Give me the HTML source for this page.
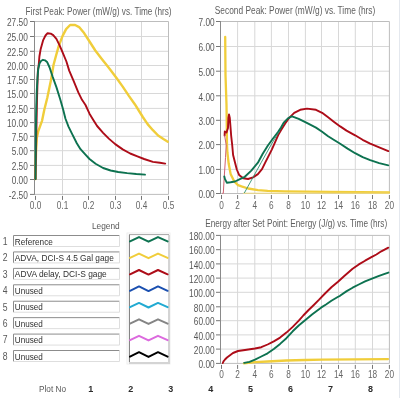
<!DOCTYPE html>
<html><head><meta charset="utf-8"><style>
html,body{margin:0;padding:0;background:#fff;width:400px;height:398px;overflow:hidden}
svg{display:block;will-change:transform;font-family:"Liberation Sans",sans-serif}
</style></head><body>
<svg width="400" height="398" viewBox="0 0 400 398">
<rect width="400" height="398" fill="#fff"/>
<line x1="62.50" y1="21.50" x2="62.50" y2="194.40" stroke="#d8d8d8" stroke-width="1"/>
<line x1="88.50" y1="21.50" x2="88.50" y2="194.40" stroke="#d8d8d8" stroke-width="1"/>
<line x1="115.50" y1="21.50" x2="115.50" y2="194.40" stroke="#d8d8d8" stroke-width="1"/>
<line x1="141.50" y1="21.50" x2="141.50" y2="194.40" stroke="#d8d8d8" stroke-width="1"/>
<line x1="34.50" y1="36.50" x2="168.50" y2="36.50" stroke="#d8d8d8" stroke-width="1"/>
<line x1="34.50" y1="51.30" x2="168.50" y2="51.30" stroke="#d8d8d8" stroke-width="1"/>
<line x1="34.50" y1="65.50" x2="168.50" y2="65.50" stroke="#d8d8d8" stroke-width="1"/>
<line x1="34.50" y1="79.50" x2="168.50" y2="79.50" stroke="#d8d8d8" stroke-width="1"/>
<line x1="34.50" y1="93.50" x2="168.50" y2="93.50" stroke="#d8d8d8" stroke-width="1"/>
<line x1="34.50" y1="108.40" x2="168.50" y2="108.40" stroke="#d8d8d8" stroke-width="1"/>
<line x1="34.50" y1="122.60" x2="168.50" y2="122.60" stroke="#d8d8d8" stroke-width="1"/>
<line x1="34.50" y1="136.30" x2="168.50" y2="136.30" stroke="#d8d8d8" stroke-width="1"/>
<line x1="34.50" y1="150.70" x2="168.50" y2="150.70" stroke="#d8d8d8" stroke-width="1"/>
<line x1="34.50" y1="165.40" x2="168.50" y2="165.40" stroke="#d8d8d8" stroke-width="1"/>
<line x1="34.50" y1="179.50" x2="168.50" y2="179.50" stroke="#d8d8d8" stroke-width="1"/>
<line x1="34.50" y1="21.50" x2="168.50" y2="21.50" stroke="#bdbdbd" stroke-width="1"/>
<line x1="168.50" y1="21.50" x2="168.50" y2="194.40" stroke="#bdbdbd" stroke-width="1"/>
<line x1="34.50" y1="194.40" x2="168.50" y2="194.40" stroke="#bdbdbd" stroke-width="1"/>
<line x1="34.50" y1="21.00" x2="34.50" y2="194.90" stroke="#8a8a8a" stroke-width="1"/>
<line x1="30.00" y1="21.50" x2="34.00" y2="21.50" stroke="#777777" stroke-width="1"/>
<text x="27.80" y="26.20" text-anchor="end" font-size="10.4" fill="#585858" textLength="20.8" lengthAdjust="spacingAndGlyphs">27.50</text>
<line x1="30.00" y1="36.50" x2="34.00" y2="36.50" stroke="#777777" stroke-width="1"/>
<text x="27.80" y="41.20" text-anchor="end" font-size="10.4" fill="#585858" textLength="20.8" lengthAdjust="spacingAndGlyphs">25.00</text>
<line x1="30.00" y1="51.30" x2="34.00" y2="51.30" stroke="#777777" stroke-width="1"/>
<text x="27.80" y="56.00" text-anchor="end" font-size="10.4" fill="#585858" textLength="20.8" lengthAdjust="spacingAndGlyphs">22.50</text>
<line x1="30.00" y1="65.50" x2="34.00" y2="65.50" stroke="#777777" stroke-width="1"/>
<text x="27.80" y="70.20" text-anchor="end" font-size="10.4" fill="#585858" textLength="20.8" lengthAdjust="spacingAndGlyphs">20.00</text>
<line x1="30.00" y1="79.50" x2="34.00" y2="79.50" stroke="#777777" stroke-width="1"/>
<text x="27.80" y="84.20" text-anchor="end" font-size="10.4" fill="#585858" textLength="20.8" lengthAdjust="spacingAndGlyphs">17.50</text>
<line x1="30.00" y1="93.50" x2="34.00" y2="93.50" stroke="#777777" stroke-width="1"/>
<text x="27.80" y="98.20" text-anchor="end" font-size="10.4" fill="#585858" textLength="20.8" lengthAdjust="spacingAndGlyphs">15.00</text>
<line x1="30.00" y1="108.40" x2="34.00" y2="108.40" stroke="#777777" stroke-width="1"/>
<text x="27.80" y="113.10" text-anchor="end" font-size="10.4" fill="#585858" textLength="20.8" lengthAdjust="spacingAndGlyphs">12.50</text>
<line x1="30.00" y1="122.60" x2="34.00" y2="122.60" stroke="#777777" stroke-width="1"/>
<text x="27.80" y="127.30" text-anchor="end" font-size="10.4" fill="#585858" textLength="20.8" lengthAdjust="spacingAndGlyphs">10.00</text>
<line x1="30.00" y1="136.30" x2="34.00" y2="136.30" stroke="#777777" stroke-width="1"/>
<text x="27.80" y="141.00" text-anchor="end" font-size="10.4" fill="#585858" textLength="16.1" lengthAdjust="spacingAndGlyphs">7.50</text>
<line x1="30.00" y1="150.70" x2="34.00" y2="150.70" stroke="#777777" stroke-width="1"/>
<text x="27.80" y="155.40" text-anchor="end" font-size="10.4" fill="#585858" textLength="16.1" lengthAdjust="spacingAndGlyphs">5.00</text>
<line x1="30.00" y1="165.40" x2="34.00" y2="165.40" stroke="#777777" stroke-width="1"/>
<text x="27.80" y="170.10" text-anchor="end" font-size="10.4" fill="#585858" textLength="16.1" lengthAdjust="spacingAndGlyphs">2.50</text>
<line x1="30.00" y1="179.50" x2="34.00" y2="179.50" stroke="#777777" stroke-width="1"/>
<text x="27.80" y="184.20" text-anchor="end" font-size="10.4" fill="#585858" textLength="16.1" lengthAdjust="spacingAndGlyphs">0.00</text>
<line x1="30.00" y1="194.40" x2="34.00" y2="194.40" stroke="#777777" stroke-width="1"/>
<text x="27.80" y="199.10" text-anchor="end" font-size="10.4" fill="#585858" textLength="19.0" lengthAdjust="spacingAndGlyphs">-2.50</text>
<line x1="35.50" y1="195.90" x2="35.50" y2="199.90" stroke="#777777" stroke-width="1"/>
<text x="35.50" y="208.60" text-anchor="middle" font-size="10.2" fill="#666666" textLength="11.5" lengthAdjust="spacingAndGlyphs">0.0</text>
<line x1="62.50" y1="195.90" x2="62.50" y2="199.90" stroke="#777777" stroke-width="1"/>
<text x="62.50" y="208.60" text-anchor="middle" font-size="10.2" fill="#666666" textLength="11.5" lengthAdjust="spacingAndGlyphs">0.1</text>
<line x1="88.50" y1="195.90" x2="88.50" y2="199.90" stroke="#777777" stroke-width="1"/>
<text x="88.50" y="208.60" text-anchor="middle" font-size="10.2" fill="#666666" textLength="11.5" lengthAdjust="spacingAndGlyphs">0.2</text>
<line x1="115.50" y1="195.90" x2="115.50" y2="199.90" stroke="#777777" stroke-width="1"/>
<text x="115.50" y="208.60" text-anchor="middle" font-size="10.2" fill="#666666" textLength="11.5" lengthAdjust="spacingAndGlyphs">0.3</text>
<line x1="141.50" y1="195.90" x2="141.50" y2="199.90" stroke="#777777" stroke-width="1"/>
<text x="141.50" y="208.60" text-anchor="middle" font-size="10.2" fill="#666666" textLength="11.5" lengthAdjust="spacingAndGlyphs">0.4</text>
<line x1="168.50" y1="195.90" x2="168.50" y2="199.90" stroke="#777777" stroke-width="1"/>
<text x="168.50" y="208.60" text-anchor="middle" font-size="10.2" fill="#666666" textLength="11.5" lengthAdjust="spacingAndGlyphs">0.5</text>
<line x1="237.60" y1="21.50" x2="237.60" y2="193.50" stroke="#d8d8d8" stroke-width="1"/>
<line x1="254.80" y1="21.50" x2="254.80" y2="193.50" stroke="#d8d8d8" stroke-width="1"/>
<line x1="271.40" y1="21.50" x2="271.40" y2="193.50" stroke="#d8d8d8" stroke-width="1"/>
<line x1="288.50" y1="21.50" x2="288.50" y2="193.50" stroke="#d8d8d8" stroke-width="1"/>
<line x1="305.40" y1="21.50" x2="305.40" y2="193.50" stroke="#d8d8d8" stroke-width="1"/>
<line x1="321.50" y1="21.50" x2="321.50" y2="193.50" stroke="#d8d8d8" stroke-width="1"/>
<line x1="338.50" y1="21.50" x2="338.50" y2="193.50" stroke="#d8d8d8" stroke-width="1"/>
<line x1="355.30" y1="21.50" x2="355.30" y2="193.50" stroke="#d8d8d8" stroke-width="1"/>
<line x1="372.50" y1="21.50" x2="372.50" y2="193.50" stroke="#d8d8d8" stroke-width="1"/>
<line x1="220.50" y1="46.50" x2="389.40" y2="46.50" stroke="#d8d8d8" stroke-width="1"/>
<line x1="220.50" y1="71.20" x2="389.40" y2="71.20" stroke="#d8d8d8" stroke-width="1"/>
<line x1="220.50" y1="95.80" x2="389.40" y2="95.80" stroke="#d8d8d8" stroke-width="1"/>
<line x1="220.50" y1="120.30" x2="389.40" y2="120.30" stroke="#d8d8d8" stroke-width="1"/>
<line x1="220.50" y1="144.60" x2="389.40" y2="144.60" stroke="#d8d8d8" stroke-width="1"/>
<line x1="220.50" y1="169.40" x2="389.40" y2="169.40" stroke="#d8d8d8" stroke-width="1"/>
<line x1="220.50" y1="21.50" x2="389.40" y2="21.50" stroke="#bdbdbd" stroke-width="1"/>
<line x1="389.40" y1="21.50" x2="389.40" y2="193.50" stroke="#bdbdbd" stroke-width="1"/>
<line x1="220.50" y1="193.50" x2="389.40" y2="193.50" stroke="#bdbdbd" stroke-width="1"/>
<line x1="220.50" y1="21.00" x2="220.50" y2="194.00" stroke="#8a8a8a" stroke-width="1"/>
<line x1="216.00" y1="21.50" x2="220.00" y2="21.50" stroke="#777777" stroke-width="1"/>
<text x="214.60" y="26.20" text-anchor="end" font-size="10.4" fill="#585858" textLength="16.1" lengthAdjust="spacingAndGlyphs">7.00</text>
<line x1="216.00" y1="46.50" x2="220.00" y2="46.50" stroke="#777777" stroke-width="1"/>
<text x="214.60" y="51.20" text-anchor="end" font-size="10.4" fill="#585858" textLength="16.1" lengthAdjust="spacingAndGlyphs">6.00</text>
<line x1="216.00" y1="71.20" x2="220.00" y2="71.20" stroke="#777777" stroke-width="1"/>
<text x="214.60" y="75.90" text-anchor="end" font-size="10.4" fill="#585858" textLength="16.1" lengthAdjust="spacingAndGlyphs">5.00</text>
<line x1="216.00" y1="95.80" x2="220.00" y2="95.80" stroke="#777777" stroke-width="1"/>
<text x="214.60" y="100.50" text-anchor="end" font-size="10.4" fill="#585858" textLength="16.1" lengthAdjust="spacingAndGlyphs">4.00</text>
<line x1="216.00" y1="120.30" x2="220.00" y2="120.30" stroke="#777777" stroke-width="1"/>
<text x="214.60" y="125.00" text-anchor="end" font-size="10.4" fill="#585858" textLength="16.1" lengthAdjust="spacingAndGlyphs">3.00</text>
<line x1="216.00" y1="144.60" x2="220.00" y2="144.60" stroke="#777777" stroke-width="1"/>
<text x="214.60" y="149.30" text-anchor="end" font-size="10.4" fill="#585858" textLength="16.1" lengthAdjust="spacingAndGlyphs">2.00</text>
<line x1="216.00" y1="169.40" x2="220.00" y2="169.40" stroke="#777777" stroke-width="1"/>
<text x="214.60" y="174.10" text-anchor="end" font-size="10.4" fill="#585858" textLength="16.1" lengthAdjust="spacingAndGlyphs">1.00</text>
<line x1="216.00" y1="193.50" x2="220.00" y2="193.50" stroke="#777777" stroke-width="1"/>
<text x="214.60" y="198.20" text-anchor="end" font-size="10.4" fill="#585858" textLength="16.1" lengthAdjust="spacingAndGlyphs">0.00</text>
<line x1="221.50" y1="195.00" x2="221.50" y2="199.00" stroke="#777777" stroke-width="1"/>
<text x="221.50" y="208.60" text-anchor="middle" font-size="10.2" fill="#666666" textLength="4.6" lengthAdjust="spacingAndGlyphs">0</text>
<line x1="237.60" y1="195.00" x2="237.60" y2="199.00" stroke="#777777" stroke-width="1"/>
<text x="237.60" y="208.60" text-anchor="middle" font-size="10.2" fill="#666666" textLength="4.6" lengthAdjust="spacingAndGlyphs">2</text>
<line x1="254.80" y1="195.00" x2="254.80" y2="199.00" stroke="#777777" stroke-width="1"/>
<text x="254.80" y="208.60" text-anchor="middle" font-size="10.2" fill="#666666" textLength="4.6" lengthAdjust="spacingAndGlyphs">4</text>
<line x1="271.40" y1="195.00" x2="271.40" y2="199.00" stroke="#777777" stroke-width="1"/>
<text x="271.40" y="208.60" text-anchor="middle" font-size="10.2" fill="#666666" textLength="4.6" lengthAdjust="spacingAndGlyphs">6</text>
<line x1="288.50" y1="195.00" x2="288.50" y2="199.00" stroke="#777777" stroke-width="1"/>
<text x="288.50" y="208.60" text-anchor="middle" font-size="10.2" fill="#666666" textLength="4.6" lengthAdjust="spacingAndGlyphs">8</text>
<line x1="305.40" y1="195.00" x2="305.40" y2="199.00" stroke="#777777" stroke-width="1"/>
<text x="305.40" y="208.60" text-anchor="middle" font-size="10.2" fill="#666666" textLength="9.2" lengthAdjust="spacingAndGlyphs">10</text>
<line x1="321.50" y1="195.00" x2="321.50" y2="199.00" stroke="#777777" stroke-width="1"/>
<text x="321.50" y="208.60" text-anchor="middle" font-size="10.2" fill="#666666" textLength="9.2" lengthAdjust="spacingAndGlyphs">12</text>
<line x1="338.50" y1="195.00" x2="338.50" y2="199.00" stroke="#777777" stroke-width="1"/>
<text x="338.50" y="208.60" text-anchor="middle" font-size="10.2" fill="#666666" textLength="9.2" lengthAdjust="spacingAndGlyphs">14</text>
<line x1="355.30" y1="195.00" x2="355.30" y2="199.00" stroke="#777777" stroke-width="1"/>
<text x="355.30" y="208.60" text-anchor="middle" font-size="10.2" fill="#666666" textLength="9.2" lengthAdjust="spacingAndGlyphs">16</text>
<line x1="372.50" y1="195.00" x2="372.50" y2="199.00" stroke="#777777" stroke-width="1"/>
<text x="372.50" y="208.60" text-anchor="middle" font-size="10.2" fill="#666666" textLength="9.2" lengthAdjust="spacingAndGlyphs">18</text>
<line x1="389.40" y1="195.00" x2="389.40" y2="199.00" stroke="#777777" stroke-width="1"/>
<text x="389.40" y="208.60" text-anchor="middle" font-size="10.2" fill="#666666" textLength="9.2" lengthAdjust="spacingAndGlyphs">20</text>
<line x1="237.60" y1="235.40" x2="237.60" y2="363.40" stroke="#d8d8d8" stroke-width="1"/>
<line x1="254.80" y1="235.40" x2="254.80" y2="363.40" stroke="#d8d8d8" stroke-width="1"/>
<line x1="271.40" y1="235.40" x2="271.40" y2="363.40" stroke="#d8d8d8" stroke-width="1"/>
<line x1="288.50" y1="235.40" x2="288.50" y2="363.40" stroke="#d8d8d8" stroke-width="1"/>
<line x1="305.40" y1="235.40" x2="305.40" y2="363.40" stroke="#d8d8d8" stroke-width="1"/>
<line x1="321.50" y1="235.40" x2="321.50" y2="363.40" stroke="#d8d8d8" stroke-width="1"/>
<line x1="338.50" y1="235.40" x2="338.50" y2="363.40" stroke="#d8d8d8" stroke-width="1"/>
<line x1="355.30" y1="235.40" x2="355.30" y2="363.40" stroke="#d8d8d8" stroke-width="1"/>
<line x1="372.50" y1="235.40" x2="372.50" y2="363.40" stroke="#d8d8d8" stroke-width="1"/>
<line x1="220.50" y1="249.70" x2="389.40" y2="249.70" stroke="#d8d8d8" stroke-width="1"/>
<line x1="220.50" y1="263.90" x2="389.40" y2="263.90" stroke="#d8d8d8" stroke-width="1"/>
<line x1="220.50" y1="278.10" x2="389.40" y2="278.10" stroke="#d8d8d8" stroke-width="1"/>
<line x1="220.50" y1="292.30" x2="389.40" y2="292.30" stroke="#d8d8d8" stroke-width="1"/>
<line x1="220.50" y1="306.80" x2="389.40" y2="306.80" stroke="#d8d8d8" stroke-width="1"/>
<line x1="220.50" y1="320.70" x2="389.40" y2="320.70" stroke="#d8d8d8" stroke-width="1"/>
<line x1="220.50" y1="334.90" x2="389.40" y2="334.90" stroke="#d8d8d8" stroke-width="1"/>
<line x1="220.50" y1="349.10" x2="389.40" y2="349.10" stroke="#d8d8d8" stroke-width="1"/>
<line x1="220.50" y1="235.40" x2="389.40" y2="235.40" stroke="#bdbdbd" stroke-width="1"/>
<line x1="389.40" y1="235.40" x2="389.40" y2="363.40" stroke="#bdbdbd" stroke-width="1"/>
<line x1="220.50" y1="363.40" x2="389.40" y2="363.40" stroke="#bdbdbd" stroke-width="1"/>
<line x1="220.50" y1="234.90" x2="220.50" y2="363.90" stroke="#8a8a8a" stroke-width="1"/>
<line x1="216.00" y1="235.40" x2="220.00" y2="235.40" stroke="#777777" stroke-width="1"/>
<text x="214.60" y="240.10" text-anchor="end" font-size="10.4" fill="#585858" textLength="25.5" lengthAdjust="spacingAndGlyphs">180.00</text>
<line x1="216.00" y1="249.70" x2="220.00" y2="249.70" stroke="#777777" stroke-width="1"/>
<text x="214.60" y="254.40" text-anchor="end" font-size="10.4" fill="#585858" textLength="25.5" lengthAdjust="spacingAndGlyphs">160.00</text>
<line x1="216.00" y1="263.90" x2="220.00" y2="263.90" stroke="#777777" stroke-width="1"/>
<text x="214.60" y="268.60" text-anchor="end" font-size="10.4" fill="#585858" textLength="25.5" lengthAdjust="spacingAndGlyphs">140.00</text>
<line x1="216.00" y1="278.10" x2="220.00" y2="278.10" stroke="#777777" stroke-width="1"/>
<text x="214.60" y="282.80" text-anchor="end" font-size="10.4" fill="#585858" textLength="25.5" lengthAdjust="spacingAndGlyphs">120.00</text>
<line x1="216.00" y1="292.30" x2="220.00" y2="292.30" stroke="#777777" stroke-width="1"/>
<text x="214.60" y="297.00" text-anchor="end" font-size="10.4" fill="#585858" textLength="25.5" lengthAdjust="spacingAndGlyphs">100.00</text>
<line x1="216.00" y1="306.80" x2="220.00" y2="306.80" stroke="#777777" stroke-width="1"/>
<text x="214.60" y="311.50" text-anchor="end" font-size="10.4" fill="#585858" textLength="20.8" lengthAdjust="spacingAndGlyphs">80.00</text>
<line x1="216.00" y1="320.70" x2="220.00" y2="320.70" stroke="#777777" stroke-width="1"/>
<text x="214.60" y="325.40" text-anchor="end" font-size="10.4" fill="#585858" textLength="20.8" lengthAdjust="spacingAndGlyphs">60.00</text>
<line x1="216.00" y1="334.90" x2="220.00" y2="334.90" stroke="#777777" stroke-width="1"/>
<text x="214.60" y="339.60" text-anchor="end" font-size="10.4" fill="#585858" textLength="20.8" lengthAdjust="spacingAndGlyphs">40.00</text>
<line x1="216.00" y1="349.10" x2="220.00" y2="349.10" stroke="#777777" stroke-width="1"/>
<text x="214.60" y="353.80" text-anchor="end" font-size="10.4" fill="#585858" textLength="20.8" lengthAdjust="spacingAndGlyphs">20.00</text>
<line x1="216.00" y1="363.40" x2="220.00" y2="363.40" stroke="#777777" stroke-width="1"/>
<text x="214.60" y="368.10" text-anchor="end" font-size="10.4" fill="#585858" textLength="16.1" lengthAdjust="spacingAndGlyphs">0.00</text>
<line x1="221.50" y1="364.90" x2="221.50" y2="368.90" stroke="#777777" stroke-width="1"/>
<text x="221.50" y="378.00" text-anchor="middle" font-size="10.2" fill="#666666" textLength="4.6" lengthAdjust="spacingAndGlyphs">0</text>
<line x1="237.60" y1="364.90" x2="237.60" y2="368.90" stroke="#777777" stroke-width="1"/>
<text x="237.60" y="378.00" text-anchor="middle" font-size="10.2" fill="#666666" textLength="4.6" lengthAdjust="spacingAndGlyphs">2</text>
<line x1="254.80" y1="364.90" x2="254.80" y2="368.90" stroke="#777777" stroke-width="1"/>
<text x="254.80" y="378.00" text-anchor="middle" font-size="10.2" fill="#666666" textLength="4.6" lengthAdjust="spacingAndGlyphs">4</text>
<line x1="271.40" y1="364.90" x2="271.40" y2="368.90" stroke="#777777" stroke-width="1"/>
<text x="271.40" y="378.00" text-anchor="middle" font-size="10.2" fill="#666666" textLength="4.6" lengthAdjust="spacingAndGlyphs">6</text>
<line x1="288.50" y1="364.90" x2="288.50" y2="368.90" stroke="#777777" stroke-width="1"/>
<text x="288.50" y="378.00" text-anchor="middle" font-size="10.2" fill="#666666" textLength="4.6" lengthAdjust="spacingAndGlyphs">8</text>
<line x1="305.40" y1="364.90" x2="305.40" y2="368.90" stroke="#777777" stroke-width="1"/>
<text x="305.40" y="378.00" text-anchor="middle" font-size="10.2" fill="#666666" textLength="9.2" lengthAdjust="spacingAndGlyphs">10</text>
<line x1="321.50" y1="364.90" x2="321.50" y2="368.90" stroke="#777777" stroke-width="1"/>
<text x="321.50" y="378.00" text-anchor="middle" font-size="10.2" fill="#666666" textLength="9.2" lengthAdjust="spacingAndGlyphs">12</text>
<line x1="338.50" y1="364.90" x2="338.50" y2="368.90" stroke="#777777" stroke-width="1"/>
<text x="338.50" y="378.00" text-anchor="middle" font-size="10.2" fill="#666666" textLength="9.2" lengthAdjust="spacingAndGlyphs">14</text>
<line x1="355.30" y1="364.90" x2="355.30" y2="368.90" stroke="#777777" stroke-width="1"/>
<text x="355.30" y="378.00" text-anchor="middle" font-size="10.2" fill="#666666" textLength="9.2" lengthAdjust="spacingAndGlyphs">16</text>
<line x1="372.50" y1="364.90" x2="372.50" y2="368.90" stroke="#777777" stroke-width="1"/>
<text x="372.50" y="378.00" text-anchor="middle" font-size="10.2" fill="#666666" textLength="9.2" lengthAdjust="spacingAndGlyphs">18</text>
<line x1="389.40" y1="364.90" x2="389.40" y2="368.90" stroke="#777777" stroke-width="1"/>
<text x="389.40" y="378.00" text-anchor="middle" font-size="10.2" fill="#666666" textLength="9.2" lengthAdjust="spacingAndGlyphs">20</text>
<text x="25.60" y="14.50" text-anchor="start" font-size="10" fill="#606060" textLength="146" lengthAdjust="spacingAndGlyphs">First Peak: Power (mW/g) vs. Time (hrs)</text>
<text x="214.80" y="14.00" text-anchor="start" font-size="10" fill="#606060" textLength="160.5" lengthAdjust="spacingAndGlyphs">Second Peak: Power (mW/g) vs. Time (hrs)</text>
<text x="205.20" y="227.20" text-anchor="start" font-size="10" fill="#606060" textLength="182" lengthAdjust="spacingAndGlyphs">Energy after Set Point: Energy (J/g) vs. Time (hrs)</text>
<text x="91.90" y="229.20" text-anchor="start" font-size="9.4" fill="#585858" textLength="27.8" lengthAdjust="spacingAndGlyphs">Legend</text>
<text x="5.20" y="244.80" text-anchor="middle" font-size="10" fill="#585858" textLength="4.8" lengthAdjust="spacingAndGlyphs">1</text>
<rect x="13.5" y="235.50" width="106" height="11" fill="#fff" stroke="none"/>
<line x1="13.50" y1="235.50" x2="119.50" y2="235.50" stroke="#8c8c8c" stroke-width="1"/>
<line x1="13.50" y1="235.50" x2="13.50" y2="246.50" stroke="#8c8c8c" stroke-width="1"/>
<line x1="13.50" y1="246.50" x2="119.50" y2="246.50" stroke="#dedede" stroke-width="1"/>
<line x1="119.50" y1="235.50" x2="119.50" y2="246.50" stroke="#dedede" stroke-width="1"/>
<text x="14.80" y="244.60" text-anchor="start" font-size="9.3" fill="#2e2e2e" textLength="38.1" lengthAdjust="spacingAndGlyphs">Reference</text>
<text x="5.20" y="261.23" text-anchor="middle" font-size="10" fill="#585858" textLength="4.8" lengthAdjust="spacingAndGlyphs">2</text>
<rect x="13.5" y="251.93" width="106" height="11" fill="#fff" stroke="none"/>
<line x1="13.50" y1="251.93" x2="119.50" y2="251.93" stroke="#8c8c8c" stroke-width="1"/>
<line x1="13.50" y1="251.93" x2="13.50" y2="262.93" stroke="#8c8c8c" stroke-width="1"/>
<line x1="13.50" y1="262.93" x2="119.50" y2="262.93" stroke="#dedede" stroke-width="1"/>
<line x1="119.50" y1="251.93" x2="119.50" y2="262.93" stroke="#dedede" stroke-width="1"/>
<text x="14.80" y="261.03" text-anchor="start" font-size="9.3" fill="#2e2e2e" textLength="99" lengthAdjust="spacingAndGlyphs">ADVA, DCI-S 4.5 Gal gage</text>
<text x="5.20" y="277.66" text-anchor="middle" font-size="10" fill="#585858" textLength="4.8" lengthAdjust="spacingAndGlyphs">3</text>
<rect x="13.5" y="268.36" width="106" height="11" fill="#fff" stroke="none"/>
<line x1="13.50" y1="268.36" x2="119.50" y2="268.36" stroke="#8c8c8c" stroke-width="1"/>
<line x1="13.50" y1="268.36" x2="13.50" y2="279.36" stroke="#8c8c8c" stroke-width="1"/>
<line x1="13.50" y1="279.36" x2="119.50" y2="279.36" stroke="#dedede" stroke-width="1"/>
<line x1="119.50" y1="268.36" x2="119.50" y2="279.36" stroke="#dedede" stroke-width="1"/>
<text x="14.80" y="277.46" text-anchor="start" font-size="9.3" fill="#2e2e2e" textLength="92" lengthAdjust="spacingAndGlyphs">ADVA delay, DCI-S gage</text>
<text x="5.20" y="294.09" text-anchor="middle" font-size="10" fill="#585858" textLength="4.8" lengthAdjust="spacingAndGlyphs">4</text>
<rect x="13.5" y="284.79" width="106" height="11" fill="#fff" stroke="none"/>
<line x1="13.50" y1="284.79" x2="119.50" y2="284.79" stroke="#8c8c8c" stroke-width="1"/>
<line x1="13.50" y1="284.79" x2="13.50" y2="295.79" stroke="#8c8c8c" stroke-width="1"/>
<line x1="13.50" y1="295.79" x2="119.50" y2="295.79" stroke="#dedede" stroke-width="1"/>
<line x1="119.50" y1="284.79" x2="119.50" y2="295.79" stroke="#dedede" stroke-width="1"/>
<text x="14.80" y="293.89" text-anchor="start" font-size="9.3" fill="#2e2e2e" textLength="28" lengthAdjust="spacingAndGlyphs">Unused</text>
<text x="5.20" y="310.52" text-anchor="middle" font-size="10" fill="#585858" textLength="4.8" lengthAdjust="spacingAndGlyphs">5</text>
<rect x="13.5" y="301.22" width="106" height="11" fill="#fff" stroke="none"/>
<line x1="13.50" y1="301.22" x2="119.50" y2="301.22" stroke="#8c8c8c" stroke-width="1"/>
<line x1="13.50" y1="301.22" x2="13.50" y2="312.22" stroke="#8c8c8c" stroke-width="1"/>
<line x1="13.50" y1="312.22" x2="119.50" y2="312.22" stroke="#dedede" stroke-width="1"/>
<line x1="119.50" y1="301.22" x2="119.50" y2="312.22" stroke="#dedede" stroke-width="1"/>
<text x="14.80" y="310.32" text-anchor="start" font-size="9.3" fill="#2e2e2e" textLength="28" lengthAdjust="spacingAndGlyphs">Unused</text>
<text x="5.20" y="326.95" text-anchor="middle" font-size="10" fill="#585858" textLength="4.8" lengthAdjust="spacingAndGlyphs">6</text>
<rect x="13.5" y="317.65" width="106" height="11" fill="#fff" stroke="none"/>
<line x1="13.50" y1="317.65" x2="119.50" y2="317.65" stroke="#8c8c8c" stroke-width="1"/>
<line x1="13.50" y1="317.65" x2="13.50" y2="328.65" stroke="#8c8c8c" stroke-width="1"/>
<line x1="13.50" y1="328.65" x2="119.50" y2="328.65" stroke="#dedede" stroke-width="1"/>
<line x1="119.50" y1="317.65" x2="119.50" y2="328.65" stroke="#dedede" stroke-width="1"/>
<text x="14.80" y="326.75" text-anchor="start" font-size="9.3" fill="#2e2e2e" textLength="28" lengthAdjust="spacingAndGlyphs">Unused</text>
<text x="5.20" y="343.38" text-anchor="middle" font-size="10" fill="#585858" textLength="4.8" lengthAdjust="spacingAndGlyphs">7</text>
<rect x="13.5" y="334.08" width="106" height="11" fill="#fff" stroke="none"/>
<line x1="13.50" y1="334.08" x2="119.50" y2="334.08" stroke="#8c8c8c" stroke-width="1"/>
<line x1="13.50" y1="334.08" x2="13.50" y2="345.08" stroke="#8c8c8c" stroke-width="1"/>
<line x1="13.50" y1="345.08" x2="119.50" y2="345.08" stroke="#dedede" stroke-width="1"/>
<line x1="119.50" y1="334.08" x2="119.50" y2="345.08" stroke="#dedede" stroke-width="1"/>
<text x="14.80" y="343.18" text-anchor="start" font-size="9.3" fill="#2e2e2e" textLength="28" lengthAdjust="spacingAndGlyphs">Unused</text>
<text x="5.20" y="359.81" text-anchor="middle" font-size="10" fill="#585858" textLength="4.8" lengthAdjust="spacingAndGlyphs">8</text>
<rect x="13.5" y="350.51" width="106" height="11" fill="#fff" stroke="none"/>
<line x1="13.50" y1="350.51" x2="119.50" y2="350.51" stroke="#8c8c8c" stroke-width="1"/>
<line x1="13.50" y1="350.51" x2="13.50" y2="361.51" stroke="#8c8c8c" stroke-width="1"/>
<line x1="13.50" y1="361.51" x2="119.50" y2="361.51" stroke="#dedede" stroke-width="1"/>
<line x1="119.50" y1="350.51" x2="119.50" y2="361.51" stroke="#dedede" stroke-width="1"/>
<text x="14.80" y="359.61" text-anchor="start" font-size="9.3" fill="#2e2e2e" textLength="28" lengthAdjust="spacingAndGlyphs">Unused</text>
<rect x="127" y="233" width="43" height="131" fill="none" stroke="#eeeeee" stroke-width="1"/>
<line x1="129.30" y1="234.60" x2="169.00" y2="234.60" stroke="#a6a6a6" stroke-width="1"/>
<line x1="129.40" y1="234.60" x2="129.40" y2="362.50" stroke="#777777" stroke-width="1"/>
<rect x="168" y="235" width="2" height="129" fill="#d4d4d4"/>
<rect x="129" y="362" width="41" height="2" fill="#d4d4d4"/>
<polyline points="130.0,241.4 139.0,237.1 148.5,241.7 158.0,237.1 167.6,241.4" fill="none" stroke="#0d7250" stroke-width="2" stroke-linejoin="round" stroke-linecap="round"/>
<polyline points="130.0,257.9 139.0,253.6 148.5,258.2 158.0,253.6 167.6,257.9" fill="none" stroke="#f0cd3a" stroke-width="2" stroke-linejoin="round" stroke-linecap="round"/>
<polyline points="130.0,274.3 139.0,270.0 148.5,274.6 158.0,270.0 167.6,274.3" fill="none" stroke="#ad0c18" stroke-width="2" stroke-linejoin="round" stroke-linecap="round"/>
<polyline points="130.0,290.8 139.0,286.4 148.5,291.1 158.0,286.4 167.6,290.8" fill="none" stroke="#1a4fb0" stroke-width="2" stroke-linejoin="round" stroke-linecap="round"/>
<polyline points="130.0,307.2 139.0,302.9 148.5,307.5 158.0,302.9 167.6,307.2" fill="none" stroke="#22aad2" stroke-width="2" stroke-linejoin="round" stroke-linecap="round"/>
<polyline points="130.0,323.6 139.0,319.3 148.5,323.9 158.0,319.3 167.6,323.6" fill="none" stroke="#858585" stroke-width="2" stroke-linejoin="round" stroke-linecap="round"/>
<polyline points="130.0,340.1 139.0,335.8 148.5,340.4 158.0,335.8 167.6,340.1" fill="none" stroke="#dc6ade" stroke-width="2" stroke-linejoin="round" stroke-linecap="round"/>
<polyline points="130.0,356.6 139.0,352.2 148.5,356.9 158.0,352.2 167.6,356.6" fill="none" stroke="#000000" stroke-width="2" stroke-linejoin="round" stroke-linecap="round"/>
<text x="52.50" y="392.20" text-anchor="middle" font-size="9.4" fill="#585858" textLength="27" lengthAdjust="spacingAndGlyphs">Plot No</text>
<text x="90.80" y="391.80" text-anchor="middle" font-size="9.8" fill="#2c2c2c" textLength="5.0" lengthAdjust="spacingAndGlyphs" font-weight="bold">1</text>
<text x="130.75" y="391.80" text-anchor="middle" font-size="9.8" fill="#2c2c2c" textLength="5.0" lengthAdjust="spacingAndGlyphs" font-weight="bold">2</text>
<text x="170.70" y="391.80" text-anchor="middle" font-size="9.8" fill="#2c2c2c" textLength="5.0" lengthAdjust="spacingAndGlyphs" font-weight="bold">3</text>
<text x="210.65" y="391.80" text-anchor="middle" font-size="9.8" fill="#2c2c2c" textLength="5.0" lengthAdjust="spacingAndGlyphs" font-weight="bold">4</text>
<text x="250.60" y="391.80" text-anchor="middle" font-size="9.8" fill="#2c2c2c" textLength="5.0" lengthAdjust="spacingAndGlyphs" font-weight="bold">5</text>
<text x="290.55" y="391.80" text-anchor="middle" font-size="9.8" fill="#2c2c2c" textLength="5.0" lengthAdjust="spacingAndGlyphs" font-weight="bold">6</text>
<text x="330.50" y="391.80" text-anchor="middle" font-size="9.8" fill="#2c2c2c" textLength="5.0" lengthAdjust="spacingAndGlyphs" font-weight="bold">7</text>
<text x="370.45" y="391.80" text-anchor="middle" font-size="9.8" fill="#2c2c2c" textLength="5.0" lengthAdjust="spacingAndGlyphs" font-weight="bold">8</text>
<line x1="399.50" y1="0.00" x2="399.50" y2="398.00" stroke="#e4e8ee" stroke-width="1"/>
<polyline points="35.5,179.0 35.7,165.8 36.0,152.2 36.8,137.9 38.3,131.1 42.1,120.6 44.3,109.8 47.3,97.7 51.1,79.6 53.5,65.0 56.2,55.0 59.0,45.2 62.5,36.1 66.1,29.1 70.1,25.0 75.1,25.0 79.1,27.1 84.1,33.1 89.2,41.0 95.3,50.5 101.6,58.7 107.6,66.3 110.5,70.0 116.7,78.3 122.7,86.6 128.7,95.6 134.8,104.2 140.0,112.5 142.8,117.0 147.6,124.1 152.9,130.2 158.1,135.5 163.4,139.0 167.8,141.7" fill="none" stroke="#f0cd3a" stroke-width="2.4" stroke-linejoin="round" stroke-linecap="round"/>
<polyline points="35.5,179.0 35.6,170.5 36.2,140.0 37.0,100.0 37.8,72.0 38.8,64.0 39.4,56.5 40.7,48.9 43.2,40.1 45.5,35.5 47.6,33.2 50.7,33.6 53.2,35.1 56.4,38.9 59.5,45.2 62.7,52.7 66.4,61.5 69.2,70.6 73.7,81.1 78.3,92.4 82.0,99.8 85.5,105.0 89.5,113.7 93.3,120.0 97.1,126.0 103.1,132.8 109.1,138.9 115.2,144.1 122.7,149.4 130.2,153.5 137.4,156.3 144.1,159.0 152.9,161.9 159.9,162.8 165.2,163.6" fill="none" stroke="#ad0c18" stroke-width="1.9" stroke-linejoin="round" stroke-linecap="round"/>
<polyline points="35.5,179.0 35.7,150.0 36.0,120.0 36.3,105.0 36.8,90.0 37.5,78.0 38.3,68.5 39.5,63.5 41.0,61.0 43.0,59.8 45.0,60.3 47.3,62.3 49.6,67.5 52.6,76.6 56.4,87.1 60.2,99.2 63.2,109.8 65.4,118.5 68.5,126.6 72.2,134.1 76.8,143.2 80.5,149.2 85.0,154.2 89.5,159.0 95.6,163.7 103.1,168.0 110.6,170.5 118.2,172.0 127.2,173.1 136.3,174.0 145.0,174.6" fill="none" stroke="#0d7250" stroke-width="1.9" stroke-linejoin="round" stroke-linecap="round"/>
<polyline points="225.2,36.9 225.5,75.0 226.5,105.0 227.0,145.0 227.4,152.5 228.7,163.8 230.6,173.9 234.3,181.4 238.0,185.2 241.5,186.4 248.1,188.5 257.9,190.1 267.7,190.8 285.0,191.3 330.0,191.8 389.0,192.5" fill="none" stroke="#f0cd3a" stroke-width="2.3" stroke-linejoin="round" stroke-linecap="round"/>
<line x1="243.00" y1="193.20" x2="389.00" y2="193.20" stroke="#f2dc80" stroke-width="1"/>
<polyline points="224.6,135.5 224.8,131.5 226.5,132.5 228.0,128.0 228.4,118.0 229.0,114.5 229.8,118.0 230.5,127.0 231.2,136.0 232.2,145.0 233.1,155.0 235.0,162.6 236.8,169.5 239.1,174.9 243.2,178.2 248.1,179.0 253.0,177.4 257.9,174.1 262.0,169.2 265.2,162.7 268.5,156.1 271.8,149.6 275.0,142.3 278.3,134.9 280.8,130.5 285.2,123.4 289.7,117.3 294.2,112.8 300.2,109.8 307.0,108.6 316.0,109.8 322.1,112.8 328.1,117.3 334.1,121.9 340.2,126.4 346.5,130.6 355.1,135.3 362.6,139.8 370.2,143.6 379.2,147.3 388.3,151.1" fill="none" stroke="#ad0c18" stroke-width="1.9" stroke-linejoin="round" stroke-linecap="round"/>
<polyline points="222.2,193.3 223.3,193.3 224.3,176 225.5,157.6 226.2,145 224.6,135.5" fill="none" stroke="#d06070" stroke-width="1"/>
<polyline points="224.3,176.4 224.9,178.9 226.8,182.7 230.6,182.2 235.0,181.5 239.9,179.2 244.8,176.8 251.3,170.6 257.9,162.7 262.6,154.0 267.9,145.5 273.0,138.5 278.0,132.0 281.0,127.5 283.7,122.6 288.2,118.1 292.0,116.3 298.7,118.9 306.3,122.6 316.0,127.6 322.1,131.7 328.1,136.2 334.1,140.0 340.2,143.7 347.6,148.6 355.1,153.2 362.7,157.1 370.2,160.2 379.2,163.2 388.3,165.4" fill="none" stroke="#0d7250" stroke-width="1.9" stroke-linejoin="round" stroke-linecap="round"/>
<polyline points="244.3,193 253,177.4 261.1,162.7 269.3,148 275,138.2 279.9,130.8" fill="none" stroke="#2a9070" stroke-width="0.9"/>
<polyline points="244.0,363.3 255.0,362.1 267.6,361.5 286.4,360.5 305.0,360.0 322.0,359.7 388.0,359.1" fill="none" stroke="#f0cd3a" stroke-width="2.3" stroke-linejoin="round" stroke-linecap="round"/>
<polyline points="222.8,363.0 223.5,361.3 225.0,359.5 227.0,357.5 229.0,356.0 233.0,353.0 238.0,351.0 245.0,350.0 250.0,349.3 255.0,348.5 261.3,347.2 267.6,344.5 273.8,341.4 280.1,337.6 286.4,332.6 292.7,326.9 298.8,320.7 303.3,315.5 308.6,310.0 313.8,305.0 319.1,299.7 325.0,293.5 331.4,287.3 338.0,281.7 344.0,276.2 352.6,268.8 358.8,264.4 365.1,260.7 371.4,257.2 376.4,254.5 381.3,251.3 388.3,247.7" fill="none" stroke="#ad0c18" stroke-width="1.9" stroke-linejoin="round" stroke-linecap="round"/>
<polyline points="244.2,362.9 249.5,361.9 255.0,359.6 261.3,356.5 267.6,353.3 273.8,348.9 280.1,343.9 286.4,338.2 292.7,331.3 299.0,325.2 306.0,319.6 312.0,314.6 317.0,310.7 321.4,307.4 326.0,304.5 331.4,300.8 337.7,297.0 340.0,295.8 346.3,291.4 352.6,287.7 358.8,284.5 365.1,281.4 371.4,278.9 377.7,276.4 384.0,274.1 388.4,272.6" fill="none" stroke="#0d7250" stroke-width="1.9" stroke-linejoin="round" stroke-linecap="round"/>
</svg></body></html>
